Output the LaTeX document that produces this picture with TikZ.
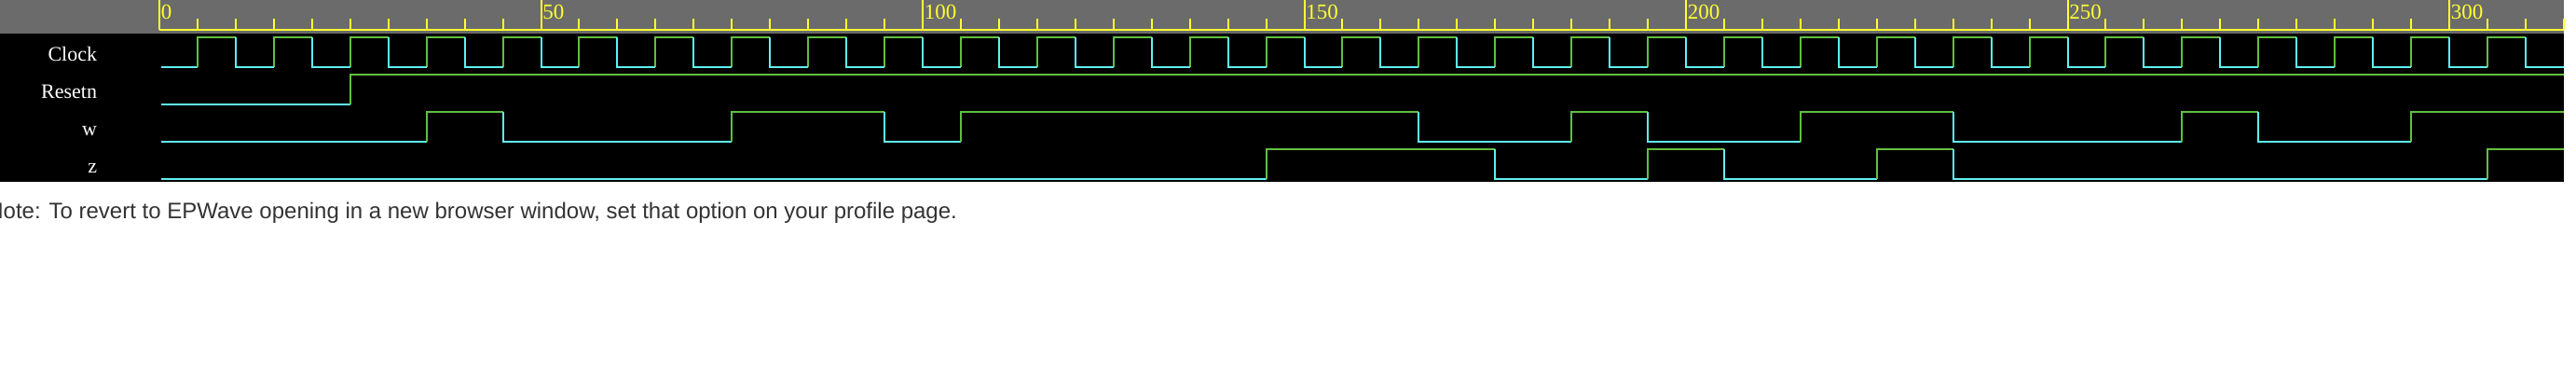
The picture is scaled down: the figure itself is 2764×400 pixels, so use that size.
\documentclass[tikz,border=0pt]{standalone}
\usepackage{fontspec}
\setmainfont{Liberation Serif}
\newfontfamily\notefont{Liberation Sans}
\definecolor{hdrgray}{RGB}{107,107,107}
\definecolor{axyellow}{RGB}{255,255,51}
\definecolor{hiGreen}{RGB}{96,192,64}
\definecolor{loCyan}{RGB}{96,240,240}
\definecolor{notegray}{RGB}{51,51,51}
\newcommand\TX[1]{171+8.19*(#1)}
\newcommand\wavehi[3]{\draw[hiwire] ({\TX{#2}},{72+40*(#1)}) -- ({\TX{#2}},{40+40*(#1)}) -- ({\TX{#3}},{40+40*(#1)});}
\newcommand\wavelo[3]{\draw[lowire] ({\TX{#2}},{40+40*(#1)}) -- ({\TX{#2}},{72+40*(#1)}) -- ({\TX{#3}},{72+40*(#1)});}
\newcommand\wavestart[2]{\draw[lowire] (173.3,{72+40*(#1)}) -- ({\TX{#2}},{72+40*(#1)});}
\begin{document}
\begin{tikzpicture}[x=0.5pt,y=-0.5pt,
  hiwire/.style={draw=hiGreen,line width=1pt},
  lowire/.style={draw=loCyan,line width=1pt},
  axline/.style={draw=axyellow,line width=1pt},
  axlabel/.style={anchor=base west,inner sep=0pt,text=axyellow,font=\fontsize{11.5}{13}\selectfont},
  signame/.style={anchor=base east,inner sep=0pt,text=white,font=\fontsize{11}{13}\selectfont},
  notetext/.style={anchor=base west,inner sep=0pt,text=notegray,font=\notefont\fontsize{12}{14}\selectfont}]
\useasboundingbox (0,0) rectangle (2764,400);
\clip (0,0) rectangle (2764,400);
\fill[white] (0,0) rectangle (2764,400);
% header and panel
\fill[hdrgray] (0,0) rectangle (2751,36);
\fill[black] (0,36) rectangle (2751,195.5);
% axis
\draw[axline] (171,32) -- (2751,32);
\foreach \t in {5,10,...,315}{
  \draw[axline] ({\TX{\t}},20) -- ({\TX{\t}},32);
}
\foreach \t in {0,50,...,300}{
  \draw[axline] ({\TX{\t}},0) -- ({\TX{\t}},32);
  \node[axlabel] (ax\t) at ({\TX{\t}+1.5},20.7) {\t};
}
% signal names
\node[signame] (lblClock) at (104.5,66) {Clock};
\node[signame] (lblResetn) at (104.5,106) {Resetn};
\node[signame] (lblw) at (104.5,146) {w};
\node[signame] (lblz) at (104.5,186) {z};
% Clock
\wavestart{0}{5}
\foreach \k in {0,...,30}{ \wavehi{0}{5+10*\k}{10+10*\k} }
\foreach \k in {1,...,31}{ \wavelo{0}{10*\k}{10*\k+5} }
% Resetn
\wavestart{1}{25}
\wavehi{1}{25}{315}
% w
\wavestart{2}{35}
\wavehi{2}{35}{45}
\wavelo{2}{45}{75}
\wavehi{2}{75}{95}
\wavelo{2}{95}{105}
\wavehi{2}{105}{165}
\wavelo{2}{165}{185}
\wavehi{2}{185}{195}
\wavelo{2}{195}{215}
\wavehi{2}{215}{235}
\wavelo{2}{235}{265}
\wavehi{2}{265}{275}
\wavelo{2}{275}{295}
\wavehi{2}{295}{315}
% z
\wavestart{3}{145}
\wavehi{3}{145}{175}
\wavelo{3}{175}{195}
\wavehi{3}{195}{205}
\wavelo{3}{205}{225}
\wavehi{3}{225}{235}
\wavelo{3}{235}{305}
\wavehi{3}{305}{315}
% note
\node[notetext] (note) at (-14,235) {Note: To revert to EPWave opening in a new browser window, set that option on your profile page.};
\end{tikzpicture}
\end{document}
